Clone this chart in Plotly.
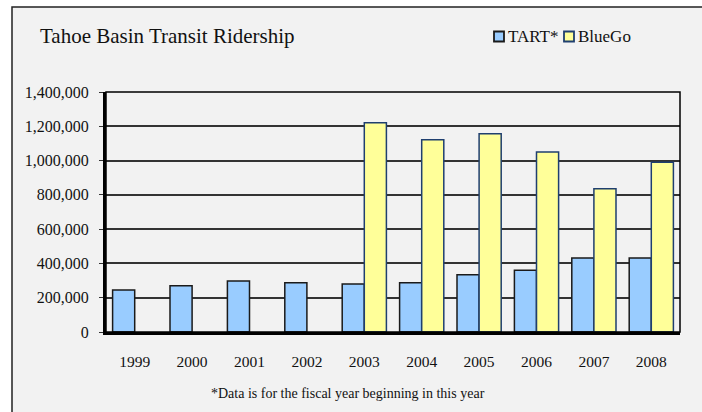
import plotly.graph_objects as go

years = ["1999", "2000", "2001", "2002", "2003", "2004", "2005", "2006", "2007", "2008"]
tart = [245000, 270000, 297000, 288000, 280000, 288000, 334000, 360000, 432000, 432000]
bluego = [None, None, None, None, 1220000, 1122000, 1157000, 1050000, 836000, 990000]
y_ticks = [0, 200000, 400000, 600000, 800000, 1000000, 1200000, 1400000]
series_names = ["TART*", "BlueGo"]
fill_colors = ["#99CCFF", "#FFFF99"]
edge_colors = ["#1a1a1a", "#1F3F6F"]

FONT = "Liberation Serif, Times New Roman, serif"
W, H = 702, 412
L, R, T, B = 106, 22, 92, 80
pw, ph = W - L - R, H - T - B

def px2x(px):
    return (px - L) / pw

def py2y(py):
    return (H - B - py) / ph

fig = go.Figure()
for name, vals, fc, ec in zip(series_names, [tart, bluego], fill_colors, edge_colors):
    fig.add_trace(go.Bar(
        x=years, y=vals, name=name,
        marker=dict(color=fc, line=dict(color=ec, width=1.5)),
    ))

shapes = [
    dict(type="rect", xref="paper", yref="paper", x0=px2x(12), x1=px2x(760),
         y0=py2y(7), y1=py2y(460), line=dict(color="#222", width=1.5),
         fillcolor="#F2F2F2", layer="below"),
    dict(type="rect", xref="paper", yref="paper", x0=0, x1=1, y0=0, y1=1,
         line=dict(color="black", width=1.5), layer="above"),
]
annotations = [
    dict(text="*Data is for the fiscal year beginning in this year", xref="paper", yref="paper",
         x=px2x(348), y=py2y(393), xanchor="center", yanchor="middle", showarrow=False,
         font=dict(family=FONT, size=14, color="#111")),
]
# manual legend
leg_x = [493, 563]
for name, fc, ec, lx in zip(series_names, fill_colors, edge_colors, leg_x):
    shapes.append(dict(type="rect", xref="paper", yref="paper", x0=px2x(lx + 1), x1=px2x(lx + 11),
                       y0=py2y(41.5), y1=py2y(31.5), fillcolor=fc,
                       line=dict(color=ec, width=1.8)))
    annotations.append(dict(text=name, xref="paper", yref="paper", x=px2x(lx + 12.5), y=py2y(36.5),
                            xanchor="left", yanchor="middle", showarrow=False,
                            font=dict(family=FONT, size=17, color="#111")))

fig.update_layout(
    width=W, height=H,
    margin=dict(l=L, r=R, t=T, b=B, autoexpand=False),
    paper_bgcolor="white",
    plot_bgcolor="rgba(0,0,0,0)",
    barmode="group", bargap=0.23, bargroupgap=0,
    font=dict(family=FONT, size=16, color="#111"),
    title=dict(text="Tahoe Basin Transit Ridership", x=40 / W, xanchor="left",
               y=1 - 36 / H, yanchor="middle", font=dict(family=FONT, size=21, color="#111")),
    showlegend=False,
    xaxis=dict(showline=True, linecolor="black", linewidth=3, ticks="",
               tickfont=dict(family=FONT, size=15.5), ticklabelstandoff=13, fixedrange=True),
    yaxis=dict(range=[0, 1400000], tickvals=y_ticks, tickformat=",", showline=True,
               linecolor="black", linewidth=3, ticks="outside", ticklen=4, tickcolor="#333",
               showgrid=True, gridcolor="#333333", gridwidth=2, zeroline=False,
               tickfont=dict(family=FONT, size=16), ticklabelstandoff=7, fixedrange=True),
    shapes=shapes,
    annotations=annotations,
)

fig.write_html("out.html", config={"displayModeBar": False, "staticPlot": True},
               post_script="document.body.style.margin='0';document.body.style.overflow='hidden';")
